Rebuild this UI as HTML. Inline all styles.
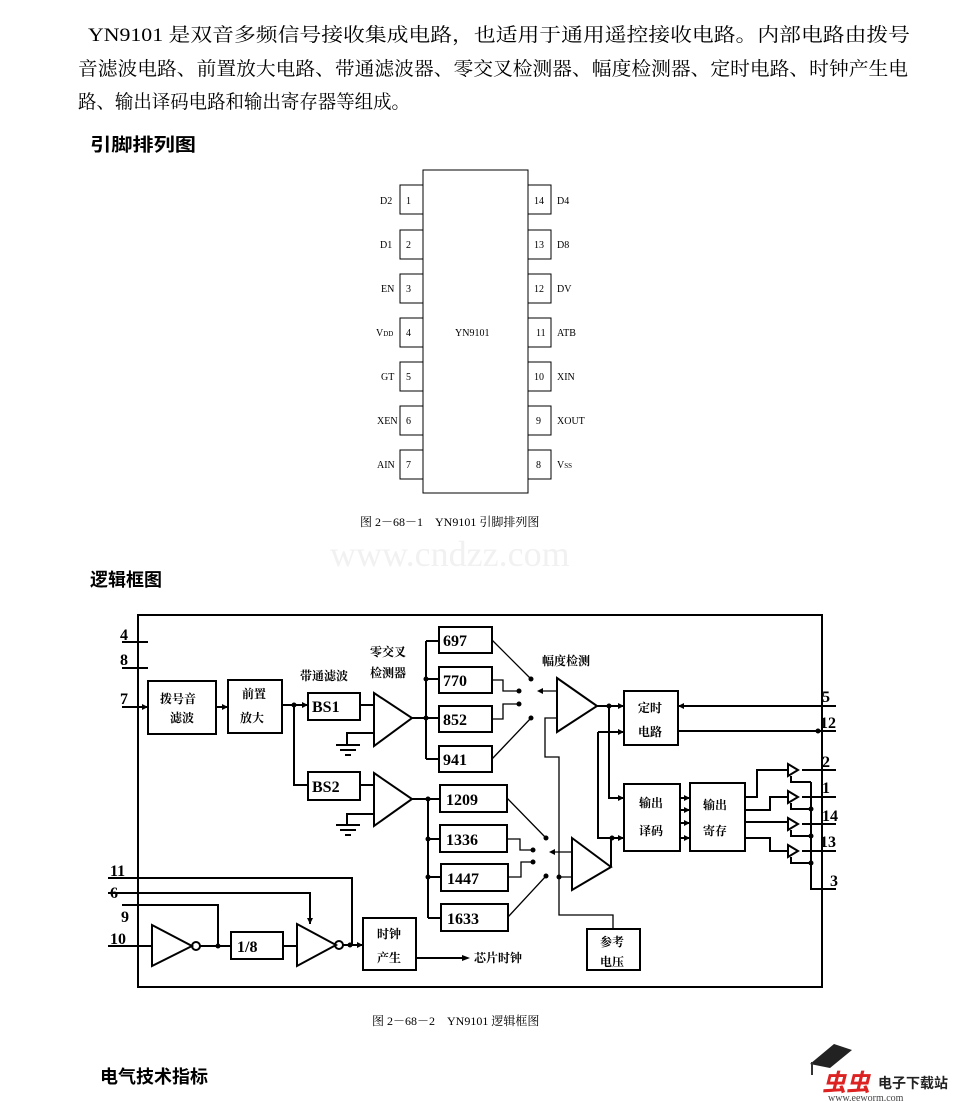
<!DOCTYPE html>
<html><head><meta charset="utf-8"><style>
html,body{margin:0;padding:0;background:#fff;}
svg{display:block;}
text{font-family:"Liberation Serif","Noto Serif CJK SC","Noto Sans CJK SC",serif;fill:#000;}
.b{font-family:"Liberation Sans","Noto Sans CJK SC",sans-serif;font-weight:bold;}
.m{font-family:"Liberation Mono","DejaVu Sans Mono",monospace;font-weight:bold;}
</style></head><body>
<svg width="960" height="1102" viewBox="0 0 960 1102" xmlns="http://www.w3.org/2000/svg">
<!-- paragraph -->
<text x="88" y="41" font-size="19" textLength="822" lengthAdjust="spacingAndGlyphs">YN9101 是双音多频信号接收集成电路，也适用于通用遥控接收电路。内部电路由拨号</text>
<text x="78" y="75" font-size="19" textLength="830" lengthAdjust="spacingAndGlyphs">音滤波电路、前置放大电路、带通滤波器、零交叉检测器、幅度检测器、定时电路、时钟产生电</text>
<text x="78" y="108" font-size="19" textLength="332" lengthAdjust="spacingAndGlyphs">路、输出译码电路和输出寄存器等组成。</text>
<text x="90" y="151" font-size="18" class="b" textLength="106" lengthAdjust="spacingAndGlyphs">引脚排列图</text>

<!-- pin diagram -->
<g fill="none" stroke="#000" stroke-width="1">
<rect x="423" y="170" width="105" height="323"/>
<rect x="400" y="185" width="23" height="29"/><rect x="400" y="230" width="23" height="29"/>
<rect x="400" y="274" width="23" height="29"/><rect x="400" y="318" width="23" height="29"/>
<rect x="400" y="362" width="23" height="29"/><rect x="400" y="406" width="23" height="29"/>
<rect x="400" y="450" width="23" height="29"/>
<rect x="528" y="185" width="23" height="29"/><rect x="528" y="230" width="23" height="29"/>
<rect x="528" y="274" width="23" height="29"/><rect x="528" y="318" width="23" height="29"/>
<rect x="528" y="362" width="23" height="29"/><rect x="528" y="406" width="23" height="29"/>
<rect x="528" y="450" width="23" height="29"/>
</g>
<g font-size="10">
<text x="406" y="204">1</text><text x="406" y="248">2</text><text x="406" y="292">3</text><text x="406" y="336">4</text><text x="406" y="380">5</text><text x="406" y="424">6</text><text x="406" y="468">7</text>
<text x="534" y="204">14</text><text x="534" y="248">13</text><text x="534" y="292">12</text><text x="536" y="336">11</text><text x="534" y="380">10</text><text x="536" y="424">9</text><text x="536" y="468">8</text>
<text x="380" y="204">D2</text><text x="380" y="248">D1</text><text x="381" y="292">EN</text><text x="376" y="336">V<tspan font-size="7">DD</tspan></text><text x="381" y="380">GT</text><text x="377" y="424">XEN</text><text x="377" y="468">AIN</text>
<text x="557" y="204">D4</text><text x="557" y="248">D8</text><text x="557" y="292">DV</text><text x="557" y="336">ATB</text><text x="557" y="380">XIN</text><text x="557" y="424">XOUT</text><text x="557" y="468">V<tspan font-size="7">SS</tspan></text>
<text x="455" y="336">YN9101</text>
</g>
<text x="360" y="526" font-size="12">图 2－68－1　YN9101 引脚排列图</text>
<text x="330" y="566" font-size="36" style="fill:#f1f1f1" font-family="Liberation Sans,sans-serif">www.cndzz.com</text>
<text x="90" y="586" font-size="18" class="b">逻辑框图</text>

<!-- logic diagram -->
<g fill="none" stroke="#000" stroke-width="2">
<rect x="138" y="615" width="684" height="372"/>
<path d="M122 642H148M122 668H148M122 707H148M108 878H352V945M108 893H310V924M122 905H218V946M108 946H152"/>
<rect x="148" y="681" width="68" height="53"/>
<rect x="228" y="680" width="54" height="53"/>
<path d="M216 707H228M282 705H308M294 705V785H308"/>
<rect x="308" y="693" width="52" height="27"/>
<rect x="308" y="772" width="52" height="28"/>
<path d="M360 705H374M360 785H374"/>
<path d="M374 693L412 718L374 746Z M374 773L412 799L374 826Z"/>
<path d="M374 733H347V745M336 745H360M340 750H356M345 755H351"/>
<path d="M374 814H347V825M336 825H360M340 830H356M345 835H351"/>
<path d="M412 718H439M412 799H440"/>
<path d="M426 641V759M426 641H439M426 679H439M426 759H439"/>
<path d="M428 799V918M428 839H440M428 877H441M428 918H441"/>
<rect x="439" y="627" width="53" height="26"/><rect x="439" y="667" width="53" height="26"/>
<rect x="439" y="706" width="53" height="26"/><rect x="439" y="746" width="53" height="26"/>
<rect x="440" y="785" width="67" height="27"/><rect x="440" y="825" width="67" height="27"/>
<rect x="441" y="864" width="67" height="27"/><rect x="441" y="904" width="67" height="27"/>
</g>
<g fill="none" stroke="#000" stroke-width="1.3">
<path d="M492 640L531 679M492 680H503V691H519M492 719H503V704H519M492 759L531 718"/>
<path d="M507 798L546 838M507 839H520V850H533M508 877H521V862H533M508 917L546 876"/>
<path d="M540 691H557M552 852H572"/>
<path d="M557 718H545V757H559V915H613V929M559 877H572"/>
</g>
<g fill="none" stroke="#000" stroke-width="2">
<path d="M557 678L597 706L557 732Z M572 838L611 867L572 890Z"/>
<path d="M597 706H624M609 706V798H624M611 867V838H624M598 732H624M598 732V838H611"/>
<rect x="624" y="691" width="54" height="54"/>
<rect x="624" y="784" width="56" height="67"/>
<rect x="690" y="783" width="55" height="68"/>
<path d="M680 798H690M680 810H690M680 823H690M680 838H690"/>
<path d="M678 706H836M678 731H836"/>
<path d="M745 797H757V770H788M745 810H770V797H788M745 822H788M745 838H770V851H788"/>
<path d="M788 764L798 770L788 776ZM788 791L798 797L788 803ZM788 818L798 824L788 830ZM788 845L798 851L788 857Z"/>
<path d="M802 770H836M802 797H836M802 824H836M802 851H836"/>
<path d="M791 776V782H811M791 803V809H811M791 830V836H811M791 857V863H811M811 782V889H836"/>
<path d="M152 925L192 946L152 966Z M297 924L336 945L297 966Z"/>
<circle cx="196" cy="946" r="4"/><circle cx="339" cy="945" r="4"/>
<path d="M200 946H231M283 946H297M343 945H363"/>
<rect x="231" y="932" width="52" height="27"/>
<rect x="363" y="918" width="53" height="52"/>
<path d="M416 958H462"/>
<rect x="587" y="929" width="53" height="41"/>
</g>
<g fill="#000">
<circle cx="294" cy="705" r="2.5"/><circle cx="426" cy="679" r="2.5"/><circle cx="426" cy="718" r="2.5"/>
<circle cx="428" cy="799" r="2.5"/><circle cx="428" cy="839" r="2.5"/><circle cx="428" cy="877" r="2.5"/>
<circle cx="531" cy="679" r="2.5"/><circle cx="519" cy="691" r="2.5"/><circle cx="519" cy="704" r="2.5"/><circle cx="531" cy="718" r="2.5"/>
<circle cx="546" cy="838" r="2.5"/><circle cx="533" cy="850" r="2.5"/><circle cx="533" cy="862" r="2.5"/><circle cx="546" cy="876" r="2.5"/>
<circle cx="559" cy="877" r="2.5"/><circle cx="609" cy="706" r="2.5"/><circle cx="612" cy="838" r="2.5"/>
<circle cx="218" cy="946" r="2.5"/><circle cx="350" cy="945" r="2.5"/><circle cx="818" cy="731" r="2.5"/>
<circle cx="811" cy="809" r="2.5"/><circle cx="811" cy="836" r="2.5"/><circle cx="811" cy="863" r="2.5"/>
<path d="M148 707l-6-3v6z M308 705l-6-3v6z M228 707l-6-3v6z M537 691l6-3v6z M549 852l6-3v6z M624 706l-6-3v6z M624 732l-6-3v6z M624 798l-6-3v6z M624 838l-6-3v6z M678 706l6-3v6z M690 798l-6-3v6z M690 810l-6-3v6z M690 823l-6-3v6z M690 838l-6-3v6z M363 945l-6-3v6z M470 958l-8-3v6z M310 924l-3-6h6z"/>
</g>
<g class="m" font-size="16">
<text x="443" y="646">697</text><text x="443" y="686">770</text><text x="443" y="725">852</text><text x="443" y="765">941</text>
<text x="446" y="805">1209</text><text x="446" y="845">1336</text><text x="447" y="884">1447</text><text x="447" y="924">1633</text>
<text x="312" y="712">BS1</text><text x="312" y="792">BS2</text><text x="237" y="952">1/8</text>
<text x="120" y="640">4</text><text x="120" y="665">8</text><text x="120" y="704">7</text><text x="110" y="876">11</text><text x="110" y="898">6</text><text x="121" y="922">9</text><text x="110" y="944">10</text>
<text x="822" y="702">5</text><text x="820" y="728">12</text><text x="822" y="767">2</text><text x="822" y="793">1</text><text x="822" y="821">14</text><text x="820" y="847">13</text><text x="830" y="886">3</text>
</g>
<g class="b" font-size="12">
<text x="160" y="703">拨号音</text><text x="170" y="722">滤波</text>
<text x="242" y="698">前置</text><text x="240" y="722">放大</text>
<text x="300" y="680">带通滤波</text><text x="370" y="656">零交叉</text><text x="370" y="677">检测器</text>
<text x="542" y="665">幅度检测</text>
<text x="638" y="712">定时</text><text x="638" y="736">电路</text>
<text x="639" y="807">输出</text><text x="639" y="835">译码</text>
<text x="703" y="809">输出</text><text x="703" y="835">寄存</text>
<text x="377" y="938">时钟</text><text x="377" y="962">产生</text>
<text x="600" y="946">参考</text><text x="600" y="966">电压</text>
<text x="474" y="962">芯片时钟</text>
</g>
<text x="372" y="1025" font-size="12">图 2－68－2　YN9101 逻辑框图</text>
<text x="100" y="1083" font-size="18" class="b">电气技术指标</text>
<!-- logo -->
<path d="M810 1064L834 1044L852 1050L830 1068Z" fill="#222"/>
<path d="M812 1062V1075" stroke="#333" stroke-width="2"/>
<text x="822" y="1091" font-size="24" class="b" style="fill:#d22;font-style:italic">虫虫</text>
<text x="878" y="1088" font-size="14" class="b" style="fill:#222">电子下载站</text>
<text x="828" y="1101" font-size="10" font-family="Liberation Sans,sans-serif" style="fill:#444">www.eeworm.com</text>
</svg>
</body></html>
